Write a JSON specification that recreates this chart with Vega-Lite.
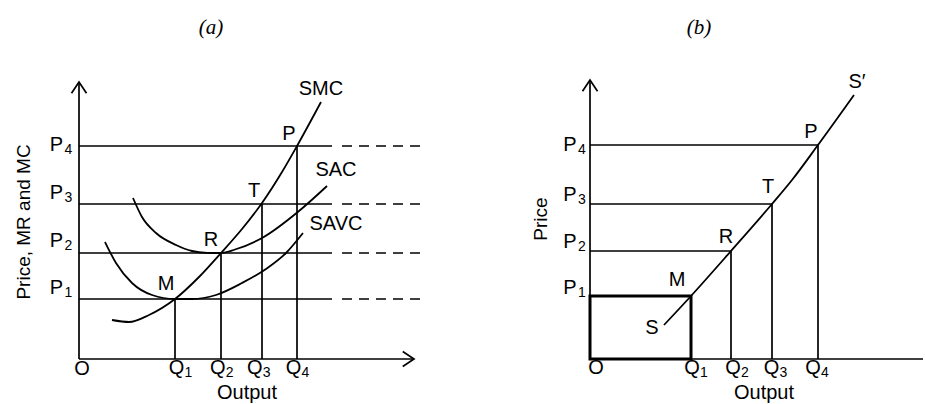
{
  "$schema": "https://vega.github.io/schema/vega-lite/v6.json",
  "background": "white",
  "padding": {"left": 15, "top": 17, "right": 0, "bottom": 0},
  "bounds": "flush",
  "spacing": 161,
  "config": {"view": {"stroke": null}},
  "datasets": {
    "a_seg": [
      {"x": 0, "y": 0, "x2": 0, "y2": 27.7},
      {"x": 0, "y": 0, "x2": 33.5, "y2": 0},
      {"x": 0, "y": 21.3, "x2": 25.3, "y2": 21.3},
      {"x": 0, "y": 15.5, "x2": 25.3, "y2": 15.5},
      {"x": 0, "y": 10.6, "x2": 25.3, "y2": 10.6},
      {"x": 0, "y": 6.0, "x2": 25.3, "y2": 6.0},
      {"x": 9.6, "y": 0, "x2": 9.6, "y2": 6.0},
      {"x": 14.2, "y": 0, "x2": 14.2, "y2": 10.6},
      {"x": 18.3, "y": 0, "x2": 18.3, "y2": 15.5},
      {"x": 21.8, "y": 0, "x2": 21.8, "y2": 21.3}
    ],
    "a_dash": [
      {"x": 26.3, "x2": 34.7, "y": 21.3},
      {"x": 26.3, "x2": 34.7, "y": 15.5},
      {"x": 26.3, "x2": 34.7, "y": 10.6},
      {"x": 26.3, "x2": 34.7, "y": 6.0}
    ],
    "a_curves": [
      {"c": "SMC", "x": 3.3, "y": 3.9},
      {"c": "SMC", "x": 5.0, "y": 3.7},
      {"c": "SMC", "x": 7.0, "y": 4.4},
      {"c": "SMC", "x": 9.6, "y": 6.0},
      {"c": "SMC", "x": 12.0, "y": 8.2},
      {"c": "SMC", "x": 14.2, "y": 10.6},
      {"c": "SMC", "x": 16.3, "y": 13.0},
      {"c": "SMC", "x": 18.3, "y": 15.6},
      {"c": "SMC", "x": 20.3, "y": 18.7},
      {"c": "SMC", "x": 21.8, "y": 21.3},
      {"c": "SMC", "x": 24.2, "y": 25.7},
      {"c": "SAC", "x": 5.4, "y": 16.1},
      {"c": "SAC", "x": 6.3, "y": 14.2},
      {"c": "SAC", "x": 7.7, "y": 12.6},
      {"c": "SAC", "x": 9.7, "y": 11.4},
      {"c": "SAC", "x": 11.3, "y": 10.8},
      {"c": "SAC", "x": 12.8, "y": 10.62},
      {"c": "SAC", "x": 14.2, "y": 10.6},
      {"c": "SAC", "x": 15.6, "y": 10.95},
      {"c": "SAC", "x": 18.3, "y": 12.1},
      {"c": "SAC", "x": 22.0, "y": 14.8},
      {"c": "SAC", "x": 24.8, "y": 17.3},
      {"c": "SAVC", "x": 2.6, "y": 11.7},
      {"c": "SAVC", "x": 3.7, "y": 9.6},
      {"c": "SAVC", "x": 5.3, "y": 7.6},
      {"c": "SAVC", "x": 7.3, "y": 6.4},
      {"c": "SAVC", "x": 9.6, "y": 6.0},
      {"c": "SAVC", "x": 11.3, "y": 6.0},
      {"c": "SAVC", "x": 13.7, "y": 6.4},
      {"c": "SAVC", "x": 16.3, "y": 7.6},
      {"c": "SAVC", "x": 18.7, "y": 9.0},
      {"c": "SAVC", "x": 20.7, "y": 10.6},
      {"c": "SAVC", "x": 22.4, "y": 12.6}
    ],
    "a_labels": [
      {"t": "SMC", "x": 24.2, "y": 27.0},
      {"t": "P", "x": 21.0, "y": 22.5},
      {"t": "SAC", "x": 25.7, "y": 18.9},
      {"t": "T", "x": 17.5, "y": 16.8},
      {"t": "SAVC", "x": 25.7, "y": 13.5},
      {"t": "R", "x": 13.2, "y": 11.9},
      {"t": "M", "x": 8.7, "y": 7.5},
      {"t": "O", "x": 0.3, "y": -1.0},
      {"t": "Output", "x": 16.8, "y": -3.4}
    ],
    "a_ticks": [
      {"t": "P", "s": "4", "x": -2.25, "y": 21.4},
      {"t": "P", "s": "3", "x": -2.25, "y": 16.65},
      {"t": "P", "s": "2", "x": -2.25, "y": 11.8},
      {"t": "P", "s": "1", "x": -2.25, "y": 7.1},
      {"t": "Q", "s": "1", "x": 9.75, "y": -0.9},
      {"t": "Q", "s": "2", "x": 13.87, "y": -0.9},
      {"t": "Q", "s": "3", "x": 17.58, "y": -0.9},
      {"t": "Q", "s": "4", "x": 21.45, "y": -0.9}
    ],
    "b_seg": [
      {"x": 0, "y": 0, "x2": 0, "y2": 27.9},
      {"x": 0, "y": 0, "x2": 33.3, "y2": 0},
      {"x": 0, "y": 21.4, "x2": 22.8, "y2": 21.4},
      {"x": 22.8, "y": 0, "x2": 22.8, "y2": 21.4},
      {"x": 0, "y": 15.5, "x2": 18.2, "y2": 15.5},
      {"x": 18.2, "y": 0, "x2": 18.2, "y2": 15.5},
      {"x": 0, "y": 10.8, "x2": 14.1, "y2": 10.8},
      {"x": 14.1, "y": 0, "x2": 14.1, "y2": 10.8}
    ],
    "b_box": [
      {"x": 0, "y": 0, "x2": 10.1, "y2": 6.3}
    ],
    "b_curve": [
      {"c": "S", "x": 7.4, "y": 3.4},
      {"c": "S", "x": 10.1, "y": 6.3},
      {"c": "S", "x": 14.1, "y": 10.8},
      {"c": "S", "x": 18.2, "y": 15.5},
      {"c": "S", "x": 20.2, "y": 17.9},
      {"c": "S", "x": 22.8, "y": 21.4},
      {"c": "S", "x": 26.4, "y": 26.4}
    ],
    "b_labels": [
      {"t": "S′", "x": 26.7, "y": 27.7},
      {"t": "P", "x": 22.1, "y": 22.7},
      {"t": "T", "x": 17.8, "y": 17.2},
      {"t": "R", "x": 13.6, "y": 12.2},
      {"t": "M", "x": 8.7, "y": 7.9},
      {"t": "S", "x": 6.2, "y": 3.1},
      {"t": "O", "x": 0.6, "y": -0.9},
      {"t": "Output", "x": 17.4, "y": -3.4}
    ],
    "b_ticks": [
      {"t": "P", "s": "4", "x": -2.0, "y": 21.45},
      {"t": "P", "s": "3", "x": -2.0, "y": 16.4},
      {"t": "P", "s": "2", "x": -2.0, "y": 11.7},
      {"t": "P", "s": "1", "x": -2.0, "y": 7.1},
      {"t": "Q", "s": "1", "x": 10.2, "y": -0.9},
      {"t": "Q", "s": "2", "x": 14.3, "y": -0.9},
      {"t": "Q", "s": "3", "x": 18.15, "y": -0.9},
      {"t": "Q", "s": "4", "x": 22.3, "y": -0.9}
    ]
  },
  "hconcat": [
    {
      "width": 350,
      "height": 300,
      "encoding": {
        "x": {"field": "x", "type": "quantitative", "scale": {"domain": [0, 35], "nice": false, "zero": false}, "axis": null},
        "y": {"field": "y", "type": "quantitative", "scale": {"domain": [0, 30], "nice": false, "zero": false}, "axis": null}
      },
      "layer": [
        {
          "data": {"name": "a_seg"},
          "mark": {"type": "rule", "color": "black", "strokeWidth": 1.7},
          "encoding": {"x2": {"field": "x2"}, "y2": {"field": "y2"}}
        },
        {
          "data": {"name": "a_dash"},
          "mark": {"type": "rule", "color": "black", "strokeWidth": 1.7, "strokeDash": [10, 7]},
          "encoding": {"x2": {"field": "x2"}}
        },
        {
          "data": {"name": "a_curves"},
          "mark": {"type": "line", "color": "black", "strokeWidth": 1.8, "interpolate": "monotone"},
          "encoding": {"detail": {"field": "c"}}
        },
        {
          "data": {"values": [{"x": 0, "y": 27.7}]},
          "mark": {"type": "point", "shape": "M-1.5,-1L0,0L-1.5,1", "size": 225, "filled": false, "color": "black", "strokeWidth": 1.7, "angle": -90, "opacity": 1}
        },
        {
          "data": {"values": [{"x": 33.5, "y": 0}]},
          "mark": {"type": "point", "shape": "M-1.5,-1L0,0L-1.5,1", "size": 225, "filled": false, "color": "black", "strokeWidth": 1.7, "opacity": 1}
        },
        {
          "data": {"name": "a_labels"},
          "mark": {"type": "text", "font": "Liberation Sans", "fontSize": 20, "align": "center", "baseline": "middle", "color": "black"},
          "encoding": {"text": {"field": "t"}}
        },
        {
          "data": {"name": "a_ticks"},
          "mark": {"type": "text", "font": "Liberation Sans", "fontSize": 20, "align": "center", "baseline": "middle", "color": "black"},
          "encoding": {"text": {"field": "t"}}
        },
        {
          "data": {"name": "a_ticks"},
          "mark": {"type": "text", "font": "Liberation Sans", "fontSize": 14, "align": "left", "baseline": "middle", "dx": 8, "dy": 5, "color": "black"},
          "encoding": {"text": {"field": "s"}}
        },
        {
          "data": {"values": [{"t": "Price, MR and MC", "x": -5.5, "y": 13.7}]},
          "mark": {"type": "text", "font": "Liberation Sans", "fontSize": 19, "angle": 270, "align": "center", "baseline": "middle", "color": "black"},
          "encoding": {"text": {"field": "t"}}
        },
        {
          "data": {"values": [{"t": "(a)", "x": 13.2, "y": 33.1}]},
          "mark": {"type": "text", "font": "Liberation Serif", "fontStyle": "italic", "fontSize": 21, "align": "center", "baseline": "middle", "color": "black"},
          "encoding": {"text": {"field": "t"}}
        }
      ]
    },
    {
      "width": 334,
      "height": 300,
      "encoding": {
        "x": {"field": "x", "type": "quantitative", "scale": {"domain": [0, 33.4], "nice": false, "zero": false}, "axis": null},
        "y": {"field": "y", "type": "quantitative", "scale": {"domain": [0, 30], "nice": false, "zero": false}, "axis": null}
      },
      "layer": [
        {
          "data": {"name": "b_seg"},
          "mark": {"type": "rule", "color": "black", "strokeWidth": 1.7},
          "encoding": {"x2": {"field": "x2"}, "y2": {"field": "y2"}}
        },
        {
          "data": {"name": "b_box"},
          "mark": {"type": "rect", "fill": null, "fillOpacity": 0, "stroke": "black", "strokeWidth": 3},
          "encoding": {"x2": {"field": "x2"}, "y2": {"field": "y2"}}
        },
        {
          "data": {"name": "b_curve"},
          "mark": {"type": "line", "color": "black", "strokeWidth": 1.8, "interpolate": "monotone"},
          "encoding": {"detail": {"field": "c"}}
        },
        {
          "data": {"values": [{"x": 0, "y": 27.9}]},
          "mark": {"type": "point", "shape": "M-1.5,-1L0,0L-1.5,1", "size": 225, "filled": false, "color": "black", "strokeWidth": 1.7, "angle": -90, "opacity": 1}
        },
        {
          "data": {"name": "b_labels"},
          "mark": {"type": "text", "font": "Liberation Sans", "fontSize": 20, "align": "center", "baseline": "middle", "color": "black"},
          "encoding": {"text": {"field": "t"}}
        },
        {
          "data": {"name": "b_ticks"},
          "mark": {"type": "text", "font": "Liberation Sans", "fontSize": 20, "align": "center", "baseline": "middle", "color": "black"},
          "encoding": {"text": {"field": "t"}}
        },
        {
          "data": {"name": "b_ticks"},
          "mark": {"type": "text", "font": "Liberation Sans", "fontSize": 14, "align": "left", "baseline": "middle", "dx": 8, "dy": 5, "color": "black"},
          "encoding": {"text": {"field": "s"}}
        },
        {
          "data": {"values": [{"t": "Price", "x": -4.9, "y": 14.0}]},
          "mark": {"type": "text", "font": "Liberation Sans", "fontSize": 19, "angle": 270, "align": "center", "baseline": "middle", "color": "black"},
          "encoding": {"text": {"field": "t"}}
        },
        {
          "data": {"values": [{"t": "(b)", "x": 10.9, "y": 33.1}]},
          "mark": {"type": "text", "font": "Liberation Serif", "fontStyle": "italic", "fontSize": 21, "align": "center", "baseline": "middle", "color": "black"},
          "encoding": {"text": {"field": "t"}}
        }
      ]
    }
  ]
}
